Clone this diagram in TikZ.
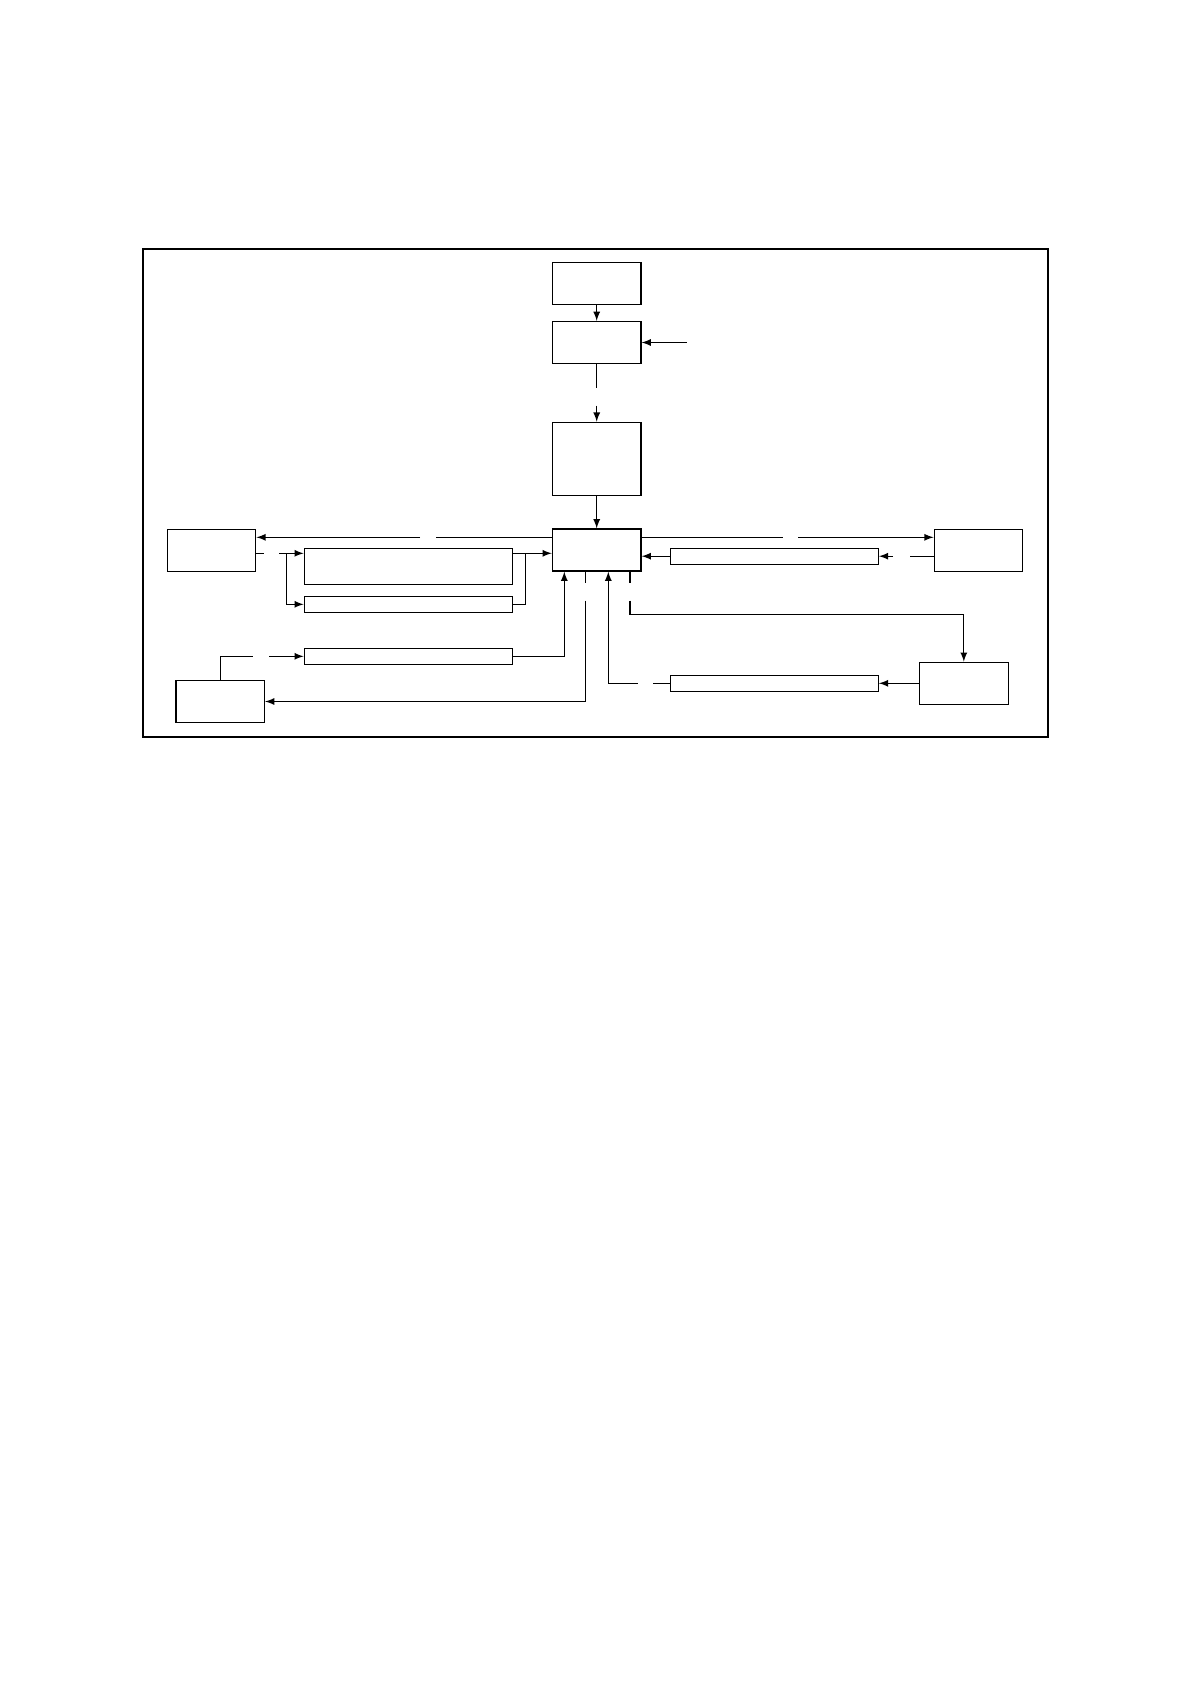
\documentclass[tikz,border=0pt]{standalone}
\usepackage{amsmath}

\begin{document}
\begin{tikzpicture}[
  x=0.5pt, y=-0.5pt,
  line width=0.6pt,
  blk/.style={draw, rectangle, inner sep=0pt, minimum width=44.3pt, minimum height=21pt},
  bar/.style={draw, rectangle, inner sep=0pt, minimum width=104pt, minimum height=8pt},
  frame/.style={draw, line width=1.4pt}
  ]
  \useasboundingbox (0,0) rectangle (1190,1684);
  \path[frame] (143,249) rectangle (1048,737);

  % boxes
  \node[blk] (NTop) at (596.7,283.7) {};
  \node[blk] (NSrc) at (596.7,342.5) {};
  \node[blk, minimum height=36.7pt] (NProc) at (596.7,459) {};
  \node[blk] (NCore) at (596.7,550) {};
  \node[blk] (NLeft) at (211.5,550.3) {};
  \node[blk] (NRight) at (978.5,550.3) {};
  \node[blk] (NLow) at (220.2,701.5) {};
  \node[blk] (NOut) at (963.8,683.3) {};

  % bars
  \node[bar, minimum height=18pt] (NL1) at (408.3,566.3) {};
  \node[bar] (NL2) at (408.3,604.3) {};
  \node[bar] (NL3) at (408.3,656.3) {};
  \node[bar] (NR1) at (774.3,556.2) {};
  \node[bar] (NR2) at (774.3,683.3) {};

  % free ends and gaps
  \coordinate (CIn) at (686.7,342.5);
  \coordinate (G1a) at (596.7,388.3);
  \coordinate (G1b) at (596.7,405.7);
  \coordinate (G2a) at (436,537.3);
  \coordinate (G2b) at (420,537.3);
  \coordinate (G3a) at (782.7,537.3);
  \coordinate (G3b) at (798.3,537.3);
  \coordinate (G4a) at (910,556.2);
  \coordinate (G4b) at (893,556.2);
  \coordinate (G5a) at (264,553.3);
  \coordinate (G5b) at (279.3,553.3);
  \coordinate (CSplit) at (286.7,553.3);
  \coordinate (CJoin) at (525.7,553.3);
  \coordinate (G6a) at (252.7,656.3);
  \coordinate (G6b) at (269.3,656.3);
  \coordinate (G7a) at (585.7,583.3);
  \coordinate (G7b) at (585.7,600.7);
  \coordinate (G8a) at (630,583.3);
  \coordinate (G8b) at (630,600.7);
  \coordinate (CTurn) at (630,614.3);
  \coordinate (G9a) at (653.3,683.3);
  \coordinate (G9b) at (637.7,683.3);

  \path[every edge/.style={draw,black,-latex}]
  (NTop)  edge (NSrc)
  (CIn)   edge (NSrc)
  (G1b)   edge (NProc)
  (NProc) edge (NCore)
  (G2b)   edge (G2b -| NLeft.east)
  (G3b)   edge (G3b -| NRight.west)
  (G4b)   edge (NR1)
  (NR1.west) edge (NR1.west -| NCore.east)
  (G5b)   edge (G5b -| NL1.west)
  (G5b -| NL1.east) edge (G5b -| NCore.west)
  (G6b)   edge (NL3)
  (NOut)  edge (NR2)
  ;

  \draw (NSrc) -- (G1a);
  \draw (G2a -| NCore.west) -- (G2a);
  \draw (G3a -| NCore.east) -- (G3a);
  \draw (G4a -| NRight.west) -- (G4a);
  \draw (G5a -| NLeft.east) -- (G5a);
  \draw[-latex] (CSplit) |- (NL2.west);
  \draw (NL2.east) -| (CJoin);
  \draw (NLow.north) |- (G6a);
  \draw[-latex] (NL3.east) -| ([xshift=-16.2pt]NCore.south);
  \draw (G7a |- NCore.south) -- (G7a);
  \draw[-latex] (G7b) |- (NLow.east);
  \draw (G8a |- NCore.south) -- (G8a);
  \draw[-latex] (G8b) -- (CTurn) -| (NOut.north);
  \draw (NR2) -- (G9a);
  \draw[-latex] (G9b) -| ([xshift=5.8pt]NCore.south);
\end{tikzpicture}
\end{document}
